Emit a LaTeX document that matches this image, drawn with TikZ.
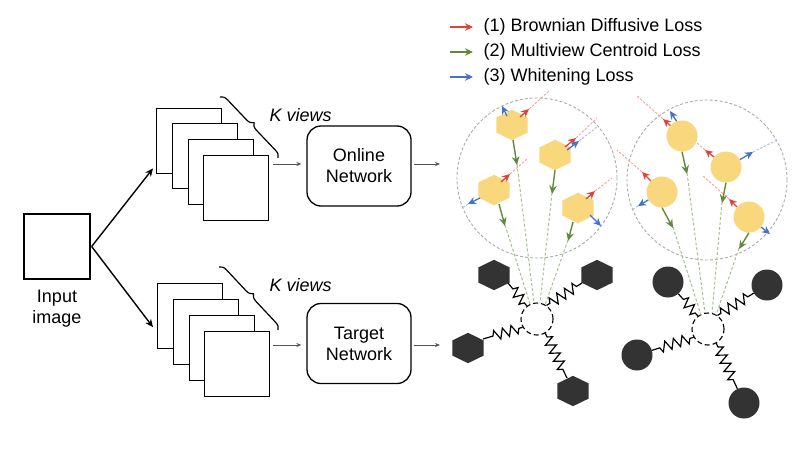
\documentclass[tikz,border=0pt]{standalone}
\usepackage{fontspec}
\setmainfont{Liberation Sans}
\usetikzlibrary{arrows.meta,shapes.geometric,decorations.pathreplacing,decorations.pathmorphing}
\definecolor{myred}{HTML}{DB4437}
\definecolor{mygreen}{HTML}{5E8A3A}
\definecolor{myblue}{HTML}{4472C4}
\definecolor{myyellow}{HTML}{F9D77C}
\definecolor{mydark}{HTML}{333333}
\definecolor{lred}{HTML}{F2A39C}
\definecolor{lblue}{HTML}{A8BCEB}
\definecolor{lgreen}{HTML}{A7C196}
\definecolor{cgray}{HTML}{ABABAB}
\definecolor{agray}{HTML}{555555}
\begin{document}
\begin{tikzpicture}[x=1pt,y=-1pt,font=\fontsize{18}{21}\selectfont,
  view/.style={draw,line width=1.4pt,fill=white,minimum width=65pt,minimum height=65pt,inner sep=0pt,anchor=north west},
  netbox/.style={draw,line width=1.3pt,rounded corners=14pt,minimum width=104pt,minimum height=80pt,align=center,inner sep=0pt},
  grayarrow/.style={agray,line width=0.8pt,-{Stealth[length=5pt,width=4pt]}},
  blackarrow/.style={black,line width=1.4pt,-{Stealth[length=8pt,width=7pt]}},
  kbrace/.style={decorate,decoration={brace,amplitude=7pt},line width=1.2pt},
  kviews/.style={anchor=west,font=\fontsize{18}{21}\selectfont\itshape},
  dcircle/.style={circle,draw=cgray,line width=0.9pt,dash pattern=on 3pt off 2pt,minimum size=160pt,inner sep=0pt},
  ccircle/.style={circle,draw=black,line width=1.1pt,dash pattern=on 5pt off 3pt,minimum size=32pt,inner sep=0pt},
  ydisc/.style={circle,fill=myyellow,minimum size=31pt,inner sep=0pt},
  kdisc/.style={circle,fill=mydark,minimum size=31pt,inner sep=0pt},
  redarr/.style={myred,line width=1.3pt,-{Stealth[length=8pt,width=7.5pt]}},
  bluearr/.style={myblue,line width=1.3pt,-{Stealth[length=8pt,width=7.5pt]}},
  greenarr/.style={mygreen,line width=1.4pt,-{Stealth[length=8.5pt,width=7.5pt]}},
  reddash/.style={lred,line width=0.9pt,dash pattern=on 2.5pt off 1.5pt},
  bluedash/.style={lblue,line width=0.9pt,dash pattern=on 2.5pt off 1.5pt},
  greendash/.style={lgreen,line width=1pt,dash pattern=on 3pt off 2pt},
  spring/.style={line width=1.2pt,decorate,decoration={zigzag,segment length=9pt,amplitude=5pt,pre length=4pt,post length=6pt}},
  hexa/.pic={\fill[#1] (0,-15.2) -- (15.6,-7.6) -- (15.6,7.6) -- (0,15.2) -- (-15.6,7.6) -- (-15.6,-7.6) -- cycle;}
]
\useasboundingbox (0,0) rectangle (808,455);

% input image
\node[draw,line width=1.3pt,minimum width=66pt,minimum height=65pt,inner sep=0pt] (input) at (57,246.5) {};
\node[align=center,inner sep=0pt] (inputlbl) at (57,309) {Input\\image};

% top stack
\node[view] (v1) at (156,108) {};
\node[view] (v2) at (172,123) {};
\node[view] (v3) at (188,139) {};
\node[view] (v4) at (203,155) {};
% bottom stack
\node[view] (w1) at (157,283) {};
\node[view] (w2) at (173,299) {};
\node[view] (w3) at (189,315) {};
\node[view] (w4) at (204,331) {};

\draw[blackarrow] ([xshift=1pt]input.east) -- ([xshift=-3pt,yshift=6pt]v1.south west);
\draw[blackarrow] ([xshift=1pt]input.east) -- ([xshift=-4pt,yshift=-11pt]w1.west);

% braces
\coordinate (b1s) at (220,97);
\coordinate (b1e) at (278,158);
\draw[kbrace] (b1s) -- (b1e);
\node[kviews] (k1) at (266,115) {K views};
\coordinate (b2s) at (219,267);
\coordinate (b2e) at (278,330);
\draw[kbrace] (b2s) -- (b2e);
\node[kviews] (k2) at (266,285) {K views};

% networks
\node[netbox] (online) at (359,166) {Online\\Network};
\node[netbox] (target) at (359,343.5) {Target\\Network};

\coordinate (o1) at (273,164);
\coordinate (o2) at (440,164);
\coordinate (t1) at (273,345);
\coordinate (t2) at (440,345);
\draw[grayarrow] (o1) -- ([xshift=-5pt]online.west |- o1);
\draw[grayarrow] ([xshift=2pt]online.east |- o2) -- (o2);
\draw[grayarrow] (t1) -- ([xshift=-5pt]target.west |- t1);
\draw[grayarrow] ([xshift=2pt]target.east |- t2) -- (t2);

% legend
\coordinate (lg1) at (450,27);
\coordinate (lg2) at (450,52);
\coordinate (lg3) at (450,77);
\draw[redarr,line width=1.1pt] (lg1) -- ++(23,0) node[anchor=west,black,inner sep=0pt,xshift=10pt] (lt1) {(1) Brownian Diffusive Loss};
\draw[greenarr,line width=1.1pt,-{Stealth[length=8pt,width=7.5pt]}] (lg2) -- ++(23,0) node[anchor=west,black,inner sep=0pt,xshift=10pt] (lt2) {(2) Multiview Centroid Loss};
\draw[bluearr,line width=1.1pt] (lg3) -- ++(23,0) node[anchor=west,black,inner sep=0pt,xshift=10pt] (lt3) {(3) Whitening Loss};

% big dashed circles
\node[dcircle] (L) at (537,178) {};
\node[dcircle] (R) at (707,180) {};

% centre circles
\node[ccircle] (Lc) at (537,319) {};
\node[ccircle] (Rc) at (708,329) {};

% green dashed converging lines (left)
\draw[greendash] (517,164) -- (534,303);
\draw[greendash] (552,193) -- (540,303);
\draw[greendash] (505,225) -- (530,304);
\draw[greendash] (568,240) -- (545,305);
% right
\draw[greendash] (687,173) -- (705,313);
\draw[greendash] (722,202) -- (712,313);
\draw[greendash] (673,227) -- (701,315);
\draw[greendash] (739,248) -- (716,315);

% yellow hexagons
\coordinate (h1) at (512,125);
\coordinate (h2) at (555,155);
\coordinate (h3) at (494,190);
\coordinate (h4) at (578,208);
\pic at (h1) {hexa=myyellow};
\pic at (h2) {hexa=myyellow};
\pic at (h3) {hexa=myyellow};
\pic at (h4) {hexa=myyellow};

% yellow discs
\node[ydisc] (c1) at (682,136) {};
\node[ydisc] (c2) at (726,167) {};
\node[ydisc] (c3) at (662,192) {};
\node[ydisc] (c4) at (749,217) {};

% left arrows
\draw[greenarr] (513,140) -- (517,165);
\draw[greenarr] (555,170) -- (552,194);
\draw[greenarr] (499,204) -- (505,226);
\draw[greenarr] (573,222) -- (568,241);

\draw[reddash] (529,109) -- (549,91);
\draw[redarr] (520,117) -- (529,109);
\draw[bluearr] (507,116) -- (502,106);

\draw[reddash] (576,138) -- (597,118);
\draw[bluedash] (579,141) -- (597,127);
\draw[redarr] (565,147) -- (576,138);
\draw[bluearr] (567,150) -- (579,141);

\draw[reddash] (510,174) -- (527,159);
\draw[redarr] (501,182) -- (510,174);
\draw[bluedash] (468,204) -- (462,208);
\draw[bluearr] (480,198) -- (468,204);

\draw[reddash] (595,191) -- (612,178);
\draw[redarr] (586,199) -- (595,191);
\draw[bluearr] (590,215) -- (601,226);

% right arrows
\draw[greenarr] (c1.south) -- (687,174);
\draw[greenarr] (c2.south) -- (722,203);
\draw[greenarr] (c3.south) -- (673,228);
\draw[greenarr] (c4.south) -- (739,249);

\draw[reddash] (663,119) -- (637,96);
\draw[redarr] (c1.138) -- (663,119);
\draw[bluearr] (c1.110) -- (670,111);

\draw[reddash] (705,150) -- (697,143);
\draw[redarr] (c2.140) -- (705,150);
\draw[bluedash] (753,152) -- (777,140);
\draw[bluearr] (c2.28) -- (753,152);

\draw[reddash] (642,172) -- (617,150);
\draw[redarr] (c3.135) -- (642,172);
\draw[bluedash] (638,206) -- (633,209);
\draw[bluearr] (c3.210) -- (638,206);

\draw[reddash] (729,199) -- (703,176);
\draw[redarr] (c4.140) -- (729,199);
\draw[bluearr] (c4.320) -- (770,234);

% dark hexagons
\coordinate (d1) at (494,275);
\coordinate (d2) at (597,275);
\coordinate (d3) at (468,348);
\coordinate (d4) at (573,391);
\pic at (d1) {hexa=mydark};
\pic at (d2) {hexa=mydark};
\pic at (d3) {hexa=mydark};
\pic at (d4) {hexa=mydark};

% dark discs
\node[kdisc] (k1d) at (668,282) {};
\node[kdisc] (k2d) at (767,285) {};
\node[kdisc] (k3d) at (637,355) {};
\node[kdisc] (k4d) at (744,403) {};

% springs
\draw[spring] (Lc.128) -- (508,283);
\draw[spring] (Lc.55) -- (582,283);
\draw[spring] (Lc.210) -- (483,339);
\draw[spring] (Lc.300) -- (567,378);

\draw[spring] (Rc.128) -- (k1d);
\draw[spring] (Rc.55) -- (k2d);
\draw[spring] (Rc.210) -- (k3d);
\draw[spring] (Rc.300) -- (k4d);
\end{tikzpicture}
\end{document}
